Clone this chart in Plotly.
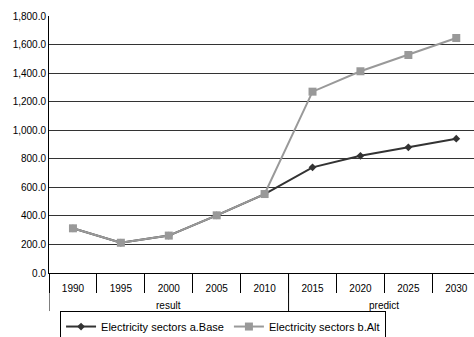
import plotly.graph_objects as go

years = ["1990", "1995", "2000", "2005", "2010", "2015", "2020", "2025", "2030"]
groups = ["result", "predict"]
group_sizes = [5, 4]
base = [313, 212, 262, 404, 553, 740, 821, 880, 941]
alt = [313, 212, 262, 404, 553, 1270, 1413, 1527, 1646]
y_ticks = [0, 200, 400, 600, 800, 1000, 1200, 1400, 1600, 1800]
y_labels = [f"{v:,.1f}" for v in y_ticks]

font = dict(family="Liberation Sans, Arial, sans-serif", size=10, color="#000")

fig = go.Figure()
fig.add_trace(go.Scatter(
    x=years, y=base, name="Electricity sectors a.Base",
    mode="lines+markers",
    line=dict(color="#333333", width=2),
    marker=dict(symbol="diamond", size=6, color="#333333"),
))
fig.add_trace(go.Scatter(
    x=years, y=alt, name="Electricity sectors b.Alt",
    mode="lines+markers",
    line=dict(color="#999999", width=2),
    marker=dict(symbol="square", size=8, color="#999999"),
))

# group labels under the year labels, with long dividers at group edges
start = 0
divider_bottom = -0.148
for name, n in zip(groups, group_sizes):
    fig.add_shape(type="line", xref="x", yref="paper",
                  x0=start - 0.5, x1=start - 0.5, y0=0, y1=divider_bottom,
                  line=dict(color="#000", width=1))
    fig.add_annotation(x=start + (n - 1) / 2, y=-0.125, xref="x", yref="paper",
                       text=name, showarrow=False, font=font, yanchor="middle")
    start += n

fig.update_layout(
    width=474, height=337,
    margin=dict(l=49, r=0, t=16, b=64, autoexpand=False),
    paper_bgcolor="white", plot_bgcolor="white",
    font=font,
    showlegend=True,
    legend=dict(
        orientation="h", x=0.026, y=-0.148, xanchor="left", yanchor="top",
        bordercolor="#000", borderwidth=1, bgcolor="white",
        font=dict(family="Liberation Sans, Arial, sans-serif", size=11),
        itemwidth=30, tracegroupgap=0,
    ),
    xaxis=dict(
        type="category", automargin=False,
        range=[-0.5, 8.37],
        showline=True, linecolor="#000", linewidth=1,
        ticks="outside", tickson="boundaries", ticklen=19,
        tickcolor="#000", tickwidth=1,
        ticklabelstandoff=6,
        showgrid=False, tickfont=font,
    ),
    yaxis=dict(
        range=[0, 1800], automargin=False,
        tickvals=y_ticks, ticktext=y_labels,
        showline=True, linecolor="#000", linewidth=1,
        showgrid=True, gridcolor="#333", gridwidth=1,
        zeroline=False, ticks="", tickfont=font,
    ),
)

fig.write_html("out.html")
